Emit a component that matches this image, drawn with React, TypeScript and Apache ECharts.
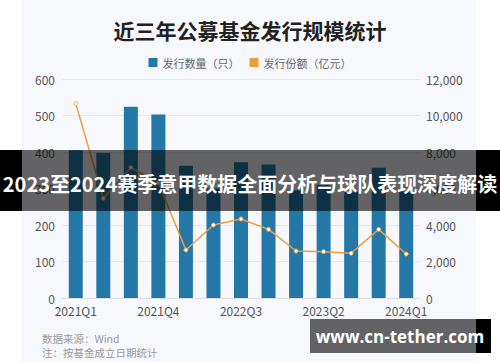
import React, { useEffect, useRef } from "react";
import * as echarts from "echarts";

const categories = [
  "2021Q1", "2021Q2", "2021Q3", "2021Q4",
  "2022Q1", "2022Q2", "2022Q3", "2022Q4",
  "2023Q1", "2023Q2", "2023Q3", "2023Q4",
  "2024Q1",
];
const fundCounts = [405, 398, 524, 503, 362, 300, 372, 366, 295, 310, 290, 357, 292];
const fundShares = [10650, 5450, 7150, 6300, 2630, 4000, 4330, 3760, 2575, 2540, 2450, 3760, 2410];
const leftTicks = { min: 0, max: 600, interval: 100 };
const rightTicks = { min: 0, max: 12000, interval: 2000 };

const FONT = "'Noto Sans CJK SC', 'Noto Sans', sans-serif";
const BAR_COLOR = "#2478a8";
const LINE_COLOR = "#ee9c3c";

export default function App() {
  const ref = useRef<HTMLDivElement>(null);
  useEffect(() => {
    if (!ref.current) return;
    const chart = echarts.init(ref.current, undefined, { renderer: "svg" });
    chart.setOption({
      animation: false,
      backgroundColor: "#ffffff",
      textStyle: { fontFamily: FONT },
      title: {
        text: "近三年公募基金发行规模统计",
        left: "center",
        top: 14,
        textStyle: { fontSize: 21, fontWeight: 600, color: "#222222", fontFamily: FONT },
      },
      legend: {
        top: 52,
        left: "center",
        itemWidth: 9,
        itemHeight: 9,
        itemGap: 10,
        icon: "rect",
        textStyle: { fontSize: 11, color: "#666666", fontFamily: FONT },
        data: [
          { name: "发行数量（只）", itemStyle: { color: BAR_COLOR } },
          { name: "发行份额（亿元）", itemStyle: { color: LINE_COLOR, borderWidth: 0 } },
        ],
      },
      grid: { left: 62, right: 80, top: 79, bottom: 64 },
      xAxis: {
        type: "category",
        data: categories,
        axisTick: { show: false },
        axisLine: { lineStyle: { color: "#dddddd" } },
        axisLabel: { interval: 2, color: "#555555", fontSize: 12, margin: 6, fontFamily: FONT },
      },
      yAxis: [
        {
          type: "value",
          ...leftTicks,
          axisLabel: { color: "#555555", fontSize: 12, margin: 7, fontFamily: FONT },
          splitLine: { lineStyle: { color: "#e6e8ee" } },
          axisLine: { show: false },
          axisTick: { show: false },
        },
        {
          type: "value",
          ...rightTicks,
          axisLabel: {
            color: "#555555",
            fontSize: 12,
            margin: 6,
            fontFamily: FONT,
            formatter: (v: number) => v.toLocaleString("en-US"),
          },
          splitLine: { show: false },
          axisLine: { show: false },
          axisTick: { show: false },
        },
      ],
      series: [
        {
          name: "发行数量（只）",
          type: "bar",
          data: fundCounts,
          barWidth: 14,
          itemStyle: { color: BAR_COLOR },
        },
        {
          name: "发行份额（亿元）",
          type: "line",
          yAxisIndex: 1,
          data: fundShares,
          symbol: "circle",
          symbolSize: 4,
          lineStyle: { color: LINE_COLOR, width: 1.5 },
          itemStyle: { color: "#ffffff", borderColor: LINE_COLOR, borderWidth: 1 },
          z: 3,
        },
      ],
      graphic: [
        {
          type: "rect",
          z: -100,
          silent: true,
          shape: { x: 22, y: 0, width: 454, height: 362 },
          style: { fill: "#f7f8fc" },
        },
        {
          type: "text",
          left: 42,
          top: 333,
          z: 10,
          style: { text: "数据来源：Wind", fontSize: 10.5, fill: "#9a9a9a", fontFamily: FONT },
        },
        {
          type: "text",
          left: 42,
          top: 347,
          z: 10,
          style: { text: "注：按基金成立日期统计", fontSize: 10.5, fill: "#9a9a9a", fontFamily: FONT },
        },
        {
          type: "rect",
          z: 100,
          silent: true,
          shape: { x: 0, y: 150, width: 22, height: 61 },
          style: { fill: "#000000" },
        },
        {
          type: "rect",
          z: 100,
          silent: true,
          shape: { x: 476, y: 150, width: 24, height: 61 },
          style: { fill: "#000000" },
        },
        {
          type: "rect",
          z: 100,
          silent: true,
          shape: { x: 22, y: 150, width: 454, height: 61 },
          style: { fill: "rgba(0,0,0,0.6)" },
        },
        {
          type: "text",
          z: 101,
          x: 250,
          y: 183,
          style: {
            text: "2023至2024赛季意甲数据全面分析与球队表现深度解读",
            fontSize: 20,
            fontWeight: "bold",
            fill: "#ffffff",
            align: "center",
            verticalAlign: "middle",
            fontFamily: FONT,
          },
        },
        {
          type: "rect",
          z: 100,
          silent: true,
          shape: { x: 310, y: 319, width: 166, height: 34 },
          style: { fill: "rgba(0,0,0,0.6)" },
        },
        {
          type: "rect",
          z: 100,
          silent: true,
          shape: { x: 476, y: 319, width: 15, height: 34 },
          style: { fill: "#000000" },
        },
        {
          type: "text",
          z: 101,
          x: 400,
          y: 336,
          style: {
            text: "www.cn-tether.com",
            fontSize: 17,
            fontWeight: "bold",
            fill: "#ffffff",
            align: "center",
            verticalAlign: "middle",
            fontFamily: "'Open Sans', 'Noto Sans', sans-serif",
          },
        },
      ],
    });
    return () => chart.dispose();
  }, []);
  return (
    <div
      ref={ref}
      style={{ position: "fixed", left: 0, top: 0, width: 500, height: 362 }}
    />
  );
}
